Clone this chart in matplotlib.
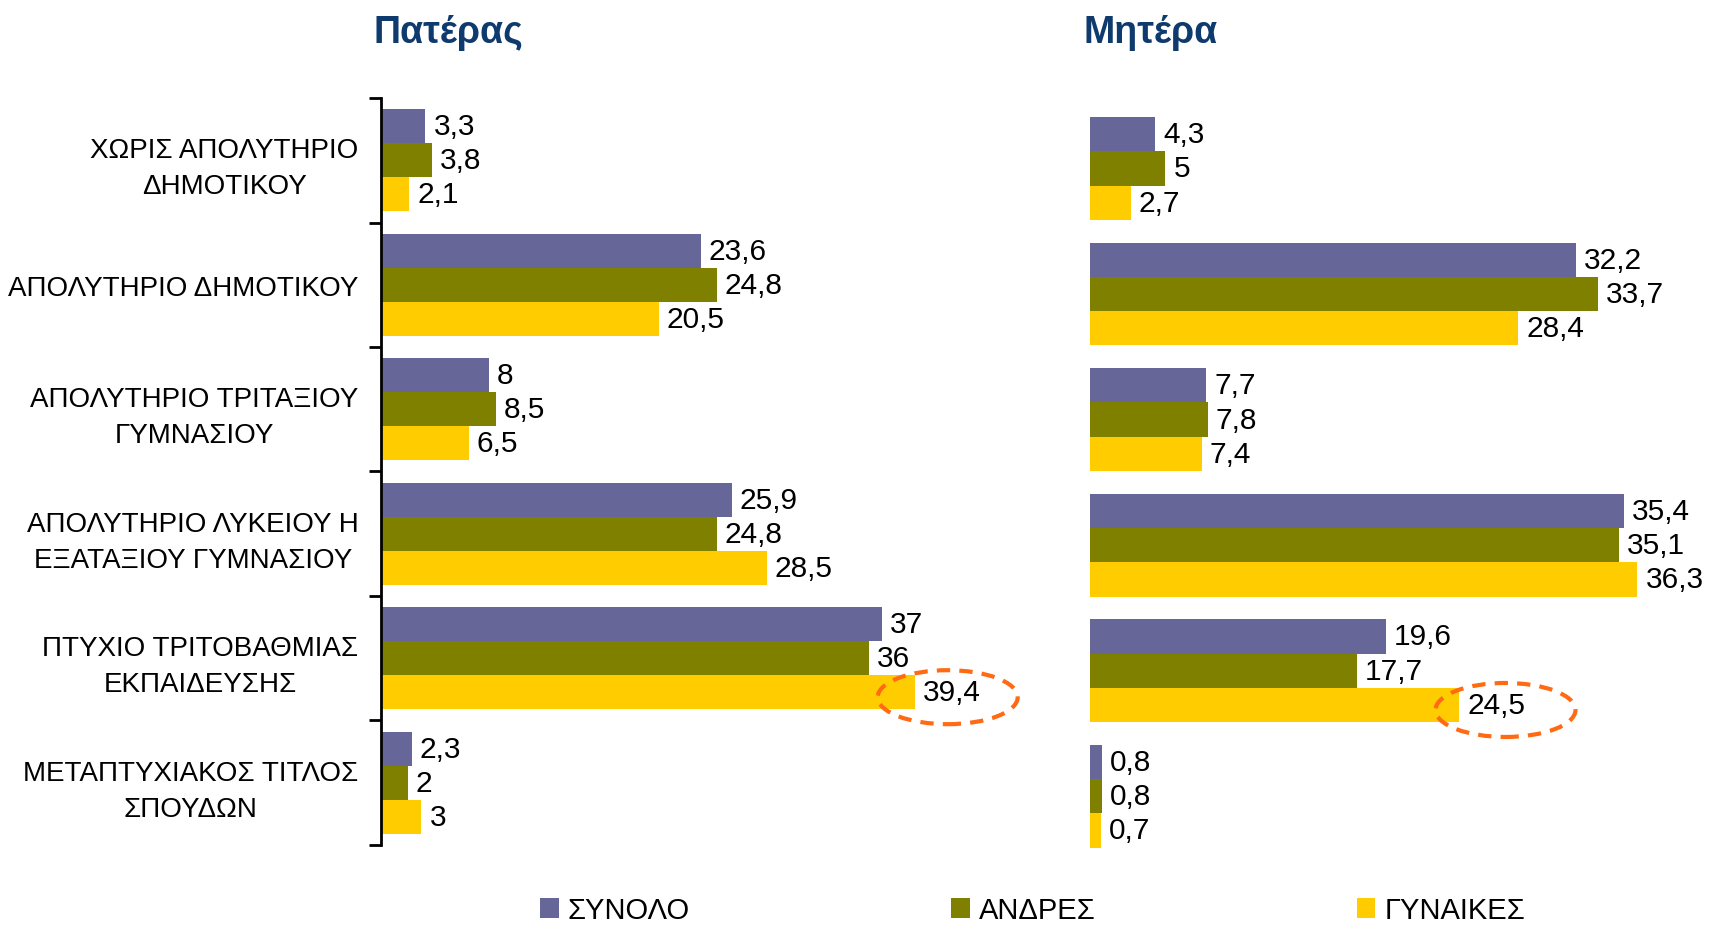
import matplotlib
matplotlib.use('Agg')
import matplotlib.pyplot as plt
from matplotlib.patches import Ellipse, Patch
from matplotlib.transforms import ScaledTranslation
import numpy as np

plt.rcParams['font.family'] = ['Liberation Sans', 'DejaVu Sans']

categories = ['ΧΩΡΙΣ ΑΠΟΛΥΤΗΡΙΟ\nΔΗΜΟΤΙΚΟΥ', 'ΑΠΟΛΥΤΗΡΙΟ ΔΗΜΟΤΙΚΟΥ',
              'ΑΠΟΛΥΤΗΡΙΟ ΤΡΙΤΑΞΙΟΥ\nΓΥΜΝΑΣΙΟΥ',
              'ΑΠΟΛΥΤΗΡΙΟ ΛΥΚΕΙΟΥ Η\nΕΞΑΤΑΞΙΟΥ ΓΥΜΝΑΣΙΟΥ',
              'ΠΤΥΧΙΟ ΤΡΙΤΟΒΑΘΜΙΑΣ\nΕΚΠΑΙΔΕΥΣΗΣ',
              'ΜΕΤΑΠΤΥΧΙΑΚΟΣ ΤΙΤΛΟΣ\nΣΠΟΥΔΩΝ']
series_names = ['ΣΥΝΟΛΟ', 'ΑΝΔΡΕΣ', 'ΓΥΝΑΙΚΕΣ']

father_total = [3.3, 23.6, 8, 25.9, 37, 2.3]
father_men = [3.8, 24.8, 8.5, 24.8, 36, 2]
father_women = [2.1, 20.5, 6.5, 28.5, 39.4, 3]

mother_total = [4.3, 32.2, 7.7, 35.4, 19.6, 0.8]
mother_men = [5, 33.7, 7.8, 35.1, 17.7, 0.8]
mother_women = [2.7, 28.4, 7.4, 36.3, 24.5, 0.7]

highlight_idx = 4  # women, tertiary degree

colors = ['#666699', '#808000', '#FFCC00']
title_color = '#0E3A6E'
ring_color = '#FF6A13'
bar_h = 0.273


def fmt(v):
    return f"{v:g}".replace('.', ',')


def draw_panel(ax, data, title, ring_dx, show_axis):
    y = np.arange(len(categories))
    for k, vals in enumerate(data):
        pos = y + (k - 1) * bar_h
        ax.barh(pos, vals, height=bar_h, color=colors[k], label=series_names[k])
        for p, v in zip(pos, vals):
            ax.annotate(fmt(v), (v, p), xytext=(8, 0), textcoords='offset pixels',
                        ha='left', va='center', fontsize=21.5, color='black')
    ax.set_xlim(0, 40)
    ax.set_ylim(len(categories) - 0.5, -0.5)
    ax.set_xticks([])
    for s in ['top', 'right', 'bottom']:
        ax.spines[s].set_visible(False)
    if show_axis:
        ax.spines['left'].set_linewidth(2)
        ax.set_yticks(np.arange(len(categories) + 1) - 0.5)
        ax.set_yticklabels([])
        ax.tick_params(axis='y', which='major', length=9, width=2, direction='out')
        ax.set_yticks(y, minor=True)
        ax.set_yticklabels(categories, minor=True, fontsize=20,
                           multialignment='center', linespacing=1.5)
        ax.tick_params(axis='y', which='minor', length=0, pad=16)
    else:
        ax.spines['left'].set_visible(False)
        ax.set_yticks([])

    # dashed ring round the highlighted value
    v = data[2][highlight_idx]
    yc = highlight_idx + bar_h + 0.04
    tr = fig.dpi_scale_trans + ScaledTranslation(v, yc, ax.transData)
    ax.add_patch(Ellipse((ring_dx, 0), 1.40, 0.54, transform=tr, fill=False,
                         edgecolor=ring_color, linestyle=(0, (3.2, 2.2)),
                         linewidth=3, clip_on=False))

    bb = ax.get_position()
    fig.text(bb.x0 - 0.004, 0.964, title, ha='left', va='center', fontsize=27,
             fontweight='bold', color=title_color)


fig = plt.figure(figsize=(17.15, 9.28), dpi=100)
ax1 = fig.add_axes([0.222, 0.0884, 0.3161, 0.8049])
ax2 = fig.add_axes([0.6356, 0.0733, 0.3517, 0.8117])

draw_panel(ax1, [father_total, father_men, father_women], 'Πατέρας', 0.33, True)
draw_panel(ax2, [mother_total, mother_men, mother_women], 'Μητέρα', 0.46, False)

handles = [Patch(facecolor=c, edgecolor='none') for c in colors]
fig.legend(handles, series_names, loc='center', bbox_to_anchor=(0.602, 0.018),
           ncol=3, frameon=False, fontsize=21, handlelength=0.65, handleheight=0.65,
           handletextpad=0.31, columnspacing=8.95, borderpad=0)

fig.savefig('out.png', dpi=100)
